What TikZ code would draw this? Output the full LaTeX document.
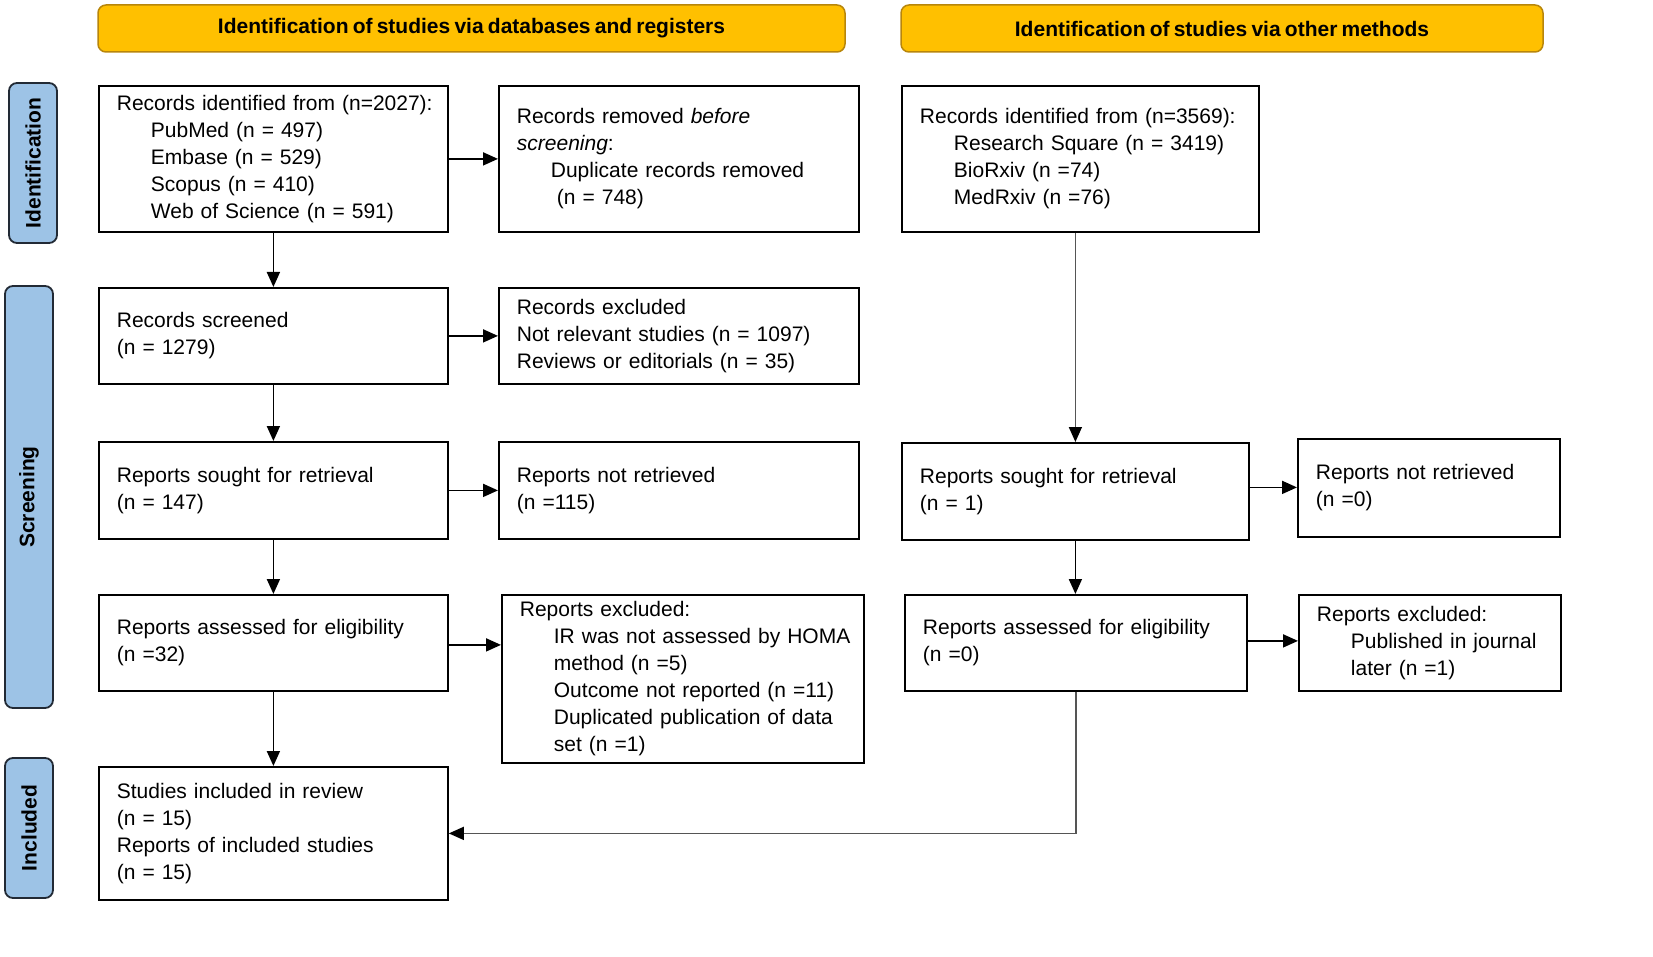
\documentclass[tikz,border=0pt]{standalone}
\usepackage{fontspec}
\setmainfont{Liberation Sans}[WordSpace=0.72]
\usetikzlibrary{arrows.meta,calc}
\definecolor{hdrfill}{HTML}{FFC000}
\definecolor{hdrline}{HTML}{B8860B}
\definecolor{sidefill}{HTML}{9DC3E6}
\definecolor{sideline}{HTML}{222A35}
\definecolor{thinline}{HTML}{555555}
\newcommand{\nbline}[1]{\mbox{#1}}
\begin{document}
\begin{tikzpicture}[x=1pt,y=-1pt,
  txt/.style={font=\fontsize{21}{27}\selectfont},
  box/.style={txt,draw=black,line width=1.8pt,align=left,inner xsep=18pt,inner ysep=0pt,anchor=north west},
  hdr/.style={font=\fontsize{21}{27}\selectfont\bfseries,draw=hdrline,fill=hdrfill,line width=1.5pt,rounded corners=8pt,minimum height=47pt},
  side/.style={font=\fontsize{21}{27}\selectfont\bfseries,draw=sideline,fill=sidefill,line width=1.8pt,rounded corners=8pt,rotate=90,minimum height=48pt},
  arr/.style={line width=1.8pt,-{Triangle[width=13pt,length=15pt]}},
  garr/.style={line width=1.5pt,draw=thinline,-{Triangle[width=13pt,length=15pt]},arrows={[color=black]}}
]
\useasboundingbox (0,0) rectangle (1653,957);
% headers
\node[hdr,minimum width=747pt] (h1) at (471.5,28.5) {Identification of studies via databases and registers};
\node[hdr,minimum width=642pt] (h2) at (1222,28.5) {Identification of studies via other methods};
% side labels
\node[side,minimum width=160pt] (s1) at (33,163) {Identification};
\node[side,minimum width=422pt] (s2) at (29,497) {Screening};
\node[side,minimum width=140pt] (s3) at (29,828) {Included};
% left column
\node[box,minimum height=146pt,text width=313pt] (b1) at (98,85) {\nbline{Records identified from (n=2027):}\\\hspace*{34pt}PubMed (n = 497)\\\hspace*{34pt}Embase (n = 529)\\\hspace*{34pt}Scopus (n = 410)\\\hspace*{34pt}\nbline{Web of Science (n = 591)}};
\node[box,minimum height=146pt,text width=324pt] (b2) at (498,85) {Records removed \textit{before}\\\textit{screening}:\\\hspace*{34pt}\nbline{Duplicate records removed}\\\hspace*{40pt}(n = 748)};
\node[box,minimum height=96pt,text width=313pt] (b3) at (98,287) {Records screened\\(n = 1279)};
\node[box,minimum height=96pt,text width=324pt] (b4) at (498,287) {Records excluded\\\nbline{Not relevant studies (n = 1097)}\\\nbline{Reviews or editorials (n = 35)}};
\node[box,minimum height=97pt,text width=313pt] (b5) at (98,441) {Reports sought for retrieval\\(n = 147)};
\node[box,minimum height=97pt,text width=324pt] (b6) at (498,441) {Reports not retrieved\\(n =115)};
\node[box,minimum height=96pt,text width=313pt] (b7) at (98,594) {\nbline{Reports assessed for eligibility}\\(n =32)};
\node[box,minimum height=168pt,text width=326pt] (b8) at (501,594) {Reports excluded:\\\hspace*{34pt}\nbline{IR was not assessed by HOMA}\\\hspace*{34pt}method (n =5)\\\hspace*{34pt}\nbline{Outcome not reported (n =11)}\\\hspace*{34pt}\nbline{Duplicated publication of data}\\\hspace*{34pt}set (n =1)};
\node[box,minimum height=133pt,text width=313pt] (b9) at (98,766) {Studies included in review\\(n = 15)\\Reports of included studies\\(n = 15)};
% right column
\node[box,minimum height=146pt,text width=321pt] (r1) at (901,85) {\nbline{Records identified from (n=3569):}\\\hspace*{34pt}\nbline{Research Square (n = 3419)}\\\hspace*{34pt}BioRxiv (n =74)\\\hspace*{34pt}MedRxiv (n =76)};
\node[box,minimum height=97pt,text width=311pt] (r2) at (901,442) {Reports sought for retrieval\\(n = 1)};
\node[box,minimum height=98pt,text width=226pt] (r3) at (1297,438) {Reports not retrieved\\(n =0)};
\node[box,minimum height=96pt,text width=306pt] (r4) at (904,594) {\nbline{Reports assessed for eligibility}\\(n =0)};
\node[box,minimum height=96pt,text width=226pt] (r5) at (1298,594) {Reports excluded:\\\hspace*{34pt}\nbline{Published in journal}\\\hspace*{34pt}later (n =1)};
% connectors left
\draw[arr] (b1.south) -- (b3.north);
\draw[arr] (b1.east) -- (b2.west);
\draw[arr] (b3.east) -- (b4.west);
\draw[arr] (b3.south) -- (b5.north);
\draw[arr] (b5.east) -- (b6.west);
\draw[arr] (b5.south) -- (b7.north);
\draw[arr] ($(b7.east)+(0,2)$) -- ($(b7.east -| b8.west)+(0,2)$);
\draw[arr] (b7.south) -- (b9.north);
% connectors right
\draw[garr] (r2.north |- r1.south) -- (r2.north);
\draw[arr] ($(r2.east)+(0,-4)$) -- ($(r2.east -| r3.west)+(0,-4)$);
\draw[arr] (r2.south) -- (r2.south |- r4.north);
\draw[arr] ($(r4.east)+(0,-2)$) -- ($(r4.east -| r5.west)+(0,-2)$);
\draw[garr] (r4.south) |- (b9.east);
\end{tikzpicture}
\end{document}
